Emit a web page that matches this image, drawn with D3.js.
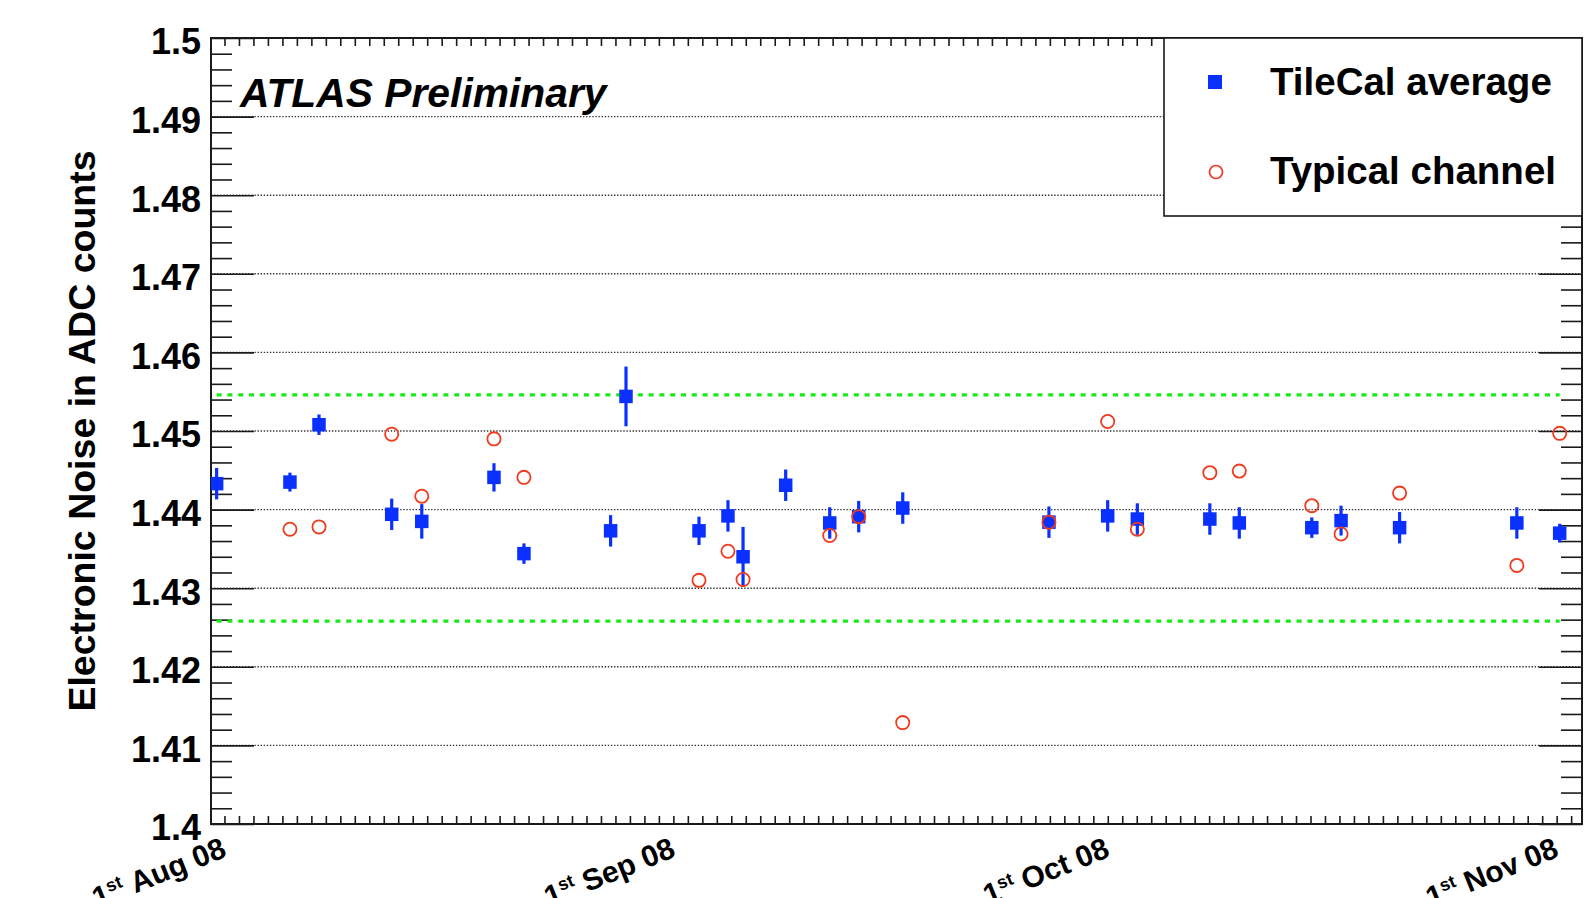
<!DOCTYPE html>
<html>
<head>
<meta charset="utf-8">
<script src="https://cdn.jsdelivr.net/npm/d3@7"></script>
<style>
  html, body { margin: 0; padding: 0; background: #fff; }
  svg { display: block; }
  text { font-family: "Liberation Sans", Arial, Helvetica, sans-serif; }
</style>
</head>
<body>
<svg id="chart" width="1589" height="898"></svg>
<script>
// ---------------- DATA ----------------
const dates = [
  "2008-07-31T11:00Z", "2008-08-05T12:30Z", "2008-08-07T12:40Z", "2008-08-12T13:10Z",
  "2008-08-14T15:00Z", "2008-08-19T14:40Z", "2008-08-21T16:20Z", "2008-08-27T16:00Z",
  "2008-08-28T17:30Z", "2008-09-02T18:30Z", "2008-09-04T18:30Z", "2008-09-05T19:30Z",
  "2008-09-08T18:10Z", "2008-09-11T19:10Z", "2008-09-13T19:10Z", "2008-09-16T20:10Z",
  "2008-09-26T22:30Z", "2008-09-30T23:50Z", "2008-10-03T01:00Z", "2008-10-08T01:10Z",
  "2008-10-10T02:00Z", "2008-10-15T02:10Z", "2008-10-17T02:40Z", "2008-10-21T03:40Z",
  "2008-10-29T06:00Z", "2008-11-01T05:00Z"
];
const tileCalAverage = [
  1.4433, 1.4435, 1.4508, 1.4394, 1.4385, 1.4441, 1.4344, 1.4373,
  1.4544, 1.4373, 1.4392, 1.4340, 1.4431, 1.4383, 1.4391, 1.4402,
  1.4384, 1.4392, 1.4388, 1.4388, 1.4383, 1.4377, 1.4386, 1.4377,
  1.4383, 1.4370
];
const tileCalError = [
  0.0020, 0.0012, 0.0013, 0.0020, 0.0022, 0.0018, 0.0013, 0.0020,
  0.0038, 0.0018, 0.0020, 0.0038, 0.0020, 0.0020, 0.0020, 0.0020,
  0.0020, 0.0020, 0.0020, 0.0020, 0.0020, 0.0013, 0.0019, 0.0020,
  0.0020, 0.0012
];
const typicalChannel = [
  null,   1.4375, 1.4378, 1.4496, 1.4417, 1.4490, 1.4441, null,
  null,   1.4310, 1.4347, 1.4311, null,   1.4367, 1.4391, 1.4129,
  1.4384, 1.4512, 1.4375, 1.4447, 1.4449, 1.4405, 1.4369, 1.4421,
  1.4329, 1.4497
];
const bandLimits = [1.4546, 1.4258];           // green dashed lines
const yMajorTicks = [1.40, 1.41, 1.42, 1.43, 1.44, 1.45, 1.46, 1.47, 1.48, 1.49, 1.50];
const yTickLabels = ["1.4", "1.41", "1.42", "1.43", "1.44", "1.45", "1.46", "1.47", "1.48", "1.49", "1.5"];
const xMonthTicks = ["2008-08-01T00:00Z", "2008-09-01T00:00Z", "2008-10-01T00:00Z", "2008-11-01T00:00Z"];
const xMonthLabels = ["Aug 08", "Sep 08", "Oct 08", "Nov 08"];
const xDomain = ["2008-07-31T01:40Z", "2008-11-02T18:00Z"];
const yDomain = [1.4, 1.5];
const legendLabels = ["TileCal average", "Typical channel"];

// ---------------- LAYOUT ----------------
const L = 211, R = 1582, T = 38, B = 824;
const BLUE = "#0a30ff", RED = "#f03a1e", GREEN = "#18ec18", INK = "#1a1a1a";
const FONT = '"Liberation Sans", Arial, Helvetica, sans-serif';

const svg = d3.select("#chart");
svg.append("rect").attr("width", 1589).attr("height", 898).attr("fill", "#fff");

const x = d3.scaleUtc().domain(xDomain.map(d => new Date(d))).range([L, R]);
const y = d3.scaleLinear().domain(yDomain).range([B, T]);

const parsed = dates.map(d => new Date(d));
const rows = parsed.map((d, i) => ({ d, v: tileCalAverage[i], e: tileCalError[i], t: typicalChannel[i] }));

// clip
svg.append("defs").append("clipPath").attr("id", "plotclip")
  .append("rect").attr("x", L).attr("y", T).attr("width", R - L).attr("height", B - T);

// grid lines (horizontal dotted)
svg.append("g").selectAll("line")
  .data(yMajorTicks.filter(v => v > yDomain[0] && v < yDomain[1]))
  .join("line")
  .attr("x1", L).attr("x2", R)
  .attr("y1", d => y(d)).attr("y2", d => y(d))
  .attr("stroke", "#333").attr("stroke-width", 1.4)
  .attr("stroke-dasharray", "1.4,1.7");

// y minor ticks values
const yMinor = d3.range(0, 51).map(i => +(yDomain[0] + i * 0.002).toFixed(3))
  .filter(v => !yMajorTicks.some(m => Math.abs(m - v) < 1e-9));

// left axis major
const gLeft = svg.append("g").attr("transform", `translate(${L},0)`)
  .call(d3.axisLeft(y).tickValues(yMajorTicks).tickSize(-43).tickPadding(10)
    .tickFormat((d, i) => yTickLabels[i]));
gLeft.select(".domain").remove();
gLeft.selectAll(".tick line").attr("stroke", INK).attr("stroke-width", 1.6);
gLeft.selectAll(".tick text").attr("font-family", FONT).attr("font-size", 36)
  .attr("font-weight", "bold").attr("fill", "#000").attr("dy", "0.44em");

const gLeftMinor = svg.append("g").attr("transform", `translate(${L},0)`)
  .call(d3.axisLeft(y).tickValues(yMinor).tickSize(-21).tickFormat(""));
gLeftMinor.select(".domain").remove();
gLeftMinor.selectAll(".tick line").attr("stroke", INK).attr("stroke-width", 1.6);

// right axis
const gRight = svg.append("g").attr("transform", `translate(${R},0)`)
  .call(d3.axisRight(y).tickValues(yMajorTicks).tickSize(-43).tickFormat(""));
gRight.select(".domain").remove();
gRight.selectAll(".tick line").attr("stroke", INK).attr("stroke-width", 1.6);
const gRightMinor = svg.append("g").attr("transform", `translate(${R},0)`)
  .call(d3.axisRight(y).tickValues(yMinor).tickSize(-21).tickFormat(""));
gRightMinor.select(".domain").remove();
gRightMinor.selectAll(".tick line").attr("stroke", INK).attr("stroke-width", 1.6);

// x daily ticks bottom & top
const days = d3.utcDay.range(x.domain()[0], x.domain()[1]);
const gBottom = svg.append("g").attr("transform", `translate(0,${B})`)
  .call(d3.axisBottom(x).tickValues(days).tickSize(-8).tickFormat(""));
gBottom.select(".domain").remove();
gBottom.selectAll(".tick line").attr("stroke", INK).attr("stroke-width", 1.6);
const gTop = svg.append("g").attr("transform", `translate(0,${T})`)
  .call(d3.axisTop(x).tickValues(days).tickSize(-8).tickFormat(""));
gTop.select(".domain").remove();
gTop.selectAll(".tick line").attr("stroke", INK).attr("stroke-width", 1.6);

// month labels
const monthDates = xMonthTicks.map(d => new Date(d));
const gMonths = svg.append("g").attr("transform", `translate(0,${B})`)
  .call(d3.axisBottom(x).tickValues(monthDates).tickSize(0).tickFormat(""));
gMonths.select(".domain").remove();
gMonths.selectAll(".tick").each(function (d, i) {
  const t = d3.select(this).select("text")
    .attr("y", null).attr("dy", null)
    .attr("transform", "translate(3,32) rotate(-22)")
    .attr("text-anchor", "end")
    .attr("font-family", FONT).attr("font-size", 30).attr("font-weight", "bold")
    .attr("fill", "#000");
  t.text(null);
  t.append("tspan").text("1");
  t.append("tspan").attr("font-size", 18).attr("dy", "-0.6em").text("st");
  t.append("tspan").attr("dy", "0.36em").text("\u00a0" + xMonthLabels[i]);
});

// frame
svg.append("rect").attr("x", L).attr("y", T).attr("width", R - L).attr("height", B - T)
  .attr("fill", "none").attr("stroke", INK).attr("stroke-width", 2);

// data layer
const gData = svg.append("g").attr("clip-path", "url(#plotclip)");

// green band lines
const x0 = d3.min(parsed), x1 = d3.max(parsed);
gData.append("g").selectAll("line").data(bandLimits).join("line")
  .attr("x1", x(x0)).attr("x2", x(x1))
  .attr("y1", d => y(d)).attr("y2", d => y(d))
  .attr("stroke", GREEN).attr("stroke-width", 3.2)
  .attr("stroke-dasharray", "5,5.8");

// error bars
gData.append("g").selectAll("line").data(rows).join("line")
  .attr("x1", d => x(d.d)).attr("x2", d => x(d.d))
  .attr("y1", d => y(d.v - d.e)).attr("y2", d => y(d.v + d.e))
  .attr("stroke", BLUE).attr("stroke-width", 3.2);

// blue squares
const S = 13.5;
gData.append("g").selectAll("rect").data(rows).join("rect")
  .attr("x", d => x(d.d) - S / 2).attr("y", d => y(d.v) - S / 2)
  .attr("width", S).attr("height", S).attr("fill", BLUE);

// red circles
gData.append("g").selectAll("circle").data(rows.filter(r => r.t != null)).join("circle")
  .attr("cx", d => x(d.d)).attr("cy", d => y(d.t)).attr("r", 6.6)
  .attr("fill", "none").attr("stroke", RED).attr("stroke-width", 1.8);

// ATLAS Preliminary
svg.append("text").attr("x", 240).attr("y", 107)
  .attr("font-family", FONT).attr("font-size", 40.8).attr("font-weight", "bold")
  .attr("font-style", "italic").attr("fill", "#000").text("ATLAS Preliminary");

// y title
svg.append("text")
  .attr("transform", "translate(95,431) rotate(-90)")
  .attr("text-anchor", "middle")
  .attr("font-family", FONT).attr("font-size", 37.5).attr("font-weight", "bold")
  .attr("fill", "#000").text("Electronic Noise in ADC counts");

// legend
const lg = svg.append("g");
lg.append("rect").attr("x", 1164).attr("y", 38).attr("width", R - 1164).attr("height", 178)
  .attr("fill", "#fff").attr("stroke", INK).attr("stroke-width", 1.6);
lg.append("rect").attr("x", 1215 - 7).attr("y", 82 - 7).attr("width", 14).attr("height", 14).attr("fill", BLUE);
lg.append("circle").attr("cx", 1216).attr("cy", 172).attr("r", 6.5)
  .attr("fill", "none").attr("stroke", RED).attr("stroke-width", 1.7);
lg.selectAll("text.lab").data(legendLabels).join("text").attr("class", "lab")
  .attr("x", 1270).attr("y", (d, i) => i === 0 ? 95 : 184)
  .attr("font-family", FONT).attr("font-size", 38.5).attr("font-weight", "bold")
  .attr("fill", "#000").text(d => d);
</script>
</body>
</html>
